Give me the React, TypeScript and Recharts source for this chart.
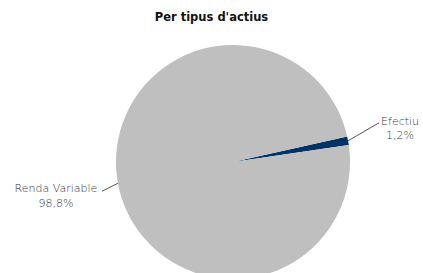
import { PieChart, Pie, Cell } from 'recharts';

const assetTypes = ['Efectiu', 'Renda Variable'];
const shares = [1.2, 98.8];
const shareLabels = ['1,2%', '98,8%'];
const sliceColors = ['#003366', '#bfbfbf'];

const data = assetTypes.map((name, i) => ({ name, value: shares[i], pct: shareLabels[i] }));

const RADIAN = Math.PI / 180;

const renderLabel = (props: any) => {
  const { cx, cy, midAngle, outerRadius, index } = props;
  const cos = Math.cos(-midAngle * RADIAN);
  const sin = Math.sin(-midAngle * RADIAN);
  const sx = cx + outerRadius * cos;
  const sy = cy + outerRadius * sin;
  const right = cos >= 0;
  const ex = sx + (right ? 31 : -16);
  const ey = sy + (right ? -18 : 8);
  const tx = right ? ex + 21 : ex - 46;
  const ty = right ? ey + 2 : ey + 1;
  const item = data[index];
  return (
    <g>
      <path d={`M${sx},${sy}L${ex},${ey}`} stroke="#555" strokeWidth={1} fill="none" />
      <text x={tx} y={ty} textAnchor="middle" fill="#333" fontSize={11} fontFamily="DejaVu Sans" fontWeight={200}>
        <tspan x={tx} dy={0}>{item.name}</tspan>
        <tspan x={tx} dy={14.5}>{item.pct}</tspan>
      </text>
    </g>
  );
};

export default function App() {
  return (
    <div style={{ position: 'absolute', left: 0, top: 0, width: 423, height: 273, background: '#fff', overflow: 'hidden' }}>
      <div
        style={{
          position: 'absolute',
          top: 10,
          left: 0,
          width: 423,
          textAlign: 'center',
          fontFamily: 'DejaVu Sans',
          fontWeight: 700,
          fontSize: 11.5,
          color: '#111',
        }}
      >
        Per tipus d'actius
      </div>
      <PieChart width={423} height={273} margin={{ top: 0, right: 0, bottom: 0, left: 0 }}>
        <Pie
          data={data}
          dataKey="value"
          nameKey="name"
          cx={233}
          cy={162}
          outerRadius={117}
          startAngle={8.3}
          endAngle={368.3}
          stroke="none"
          label={renderLabel}
          labelLine={false}
          isAnimationActive={false}
        >
          {data.map((d, i) => (
            <Cell key={d.name} fill={sliceColors[i]} />
          ))}
        </Pie>
      </PieChart>
    </div>
  );
}
